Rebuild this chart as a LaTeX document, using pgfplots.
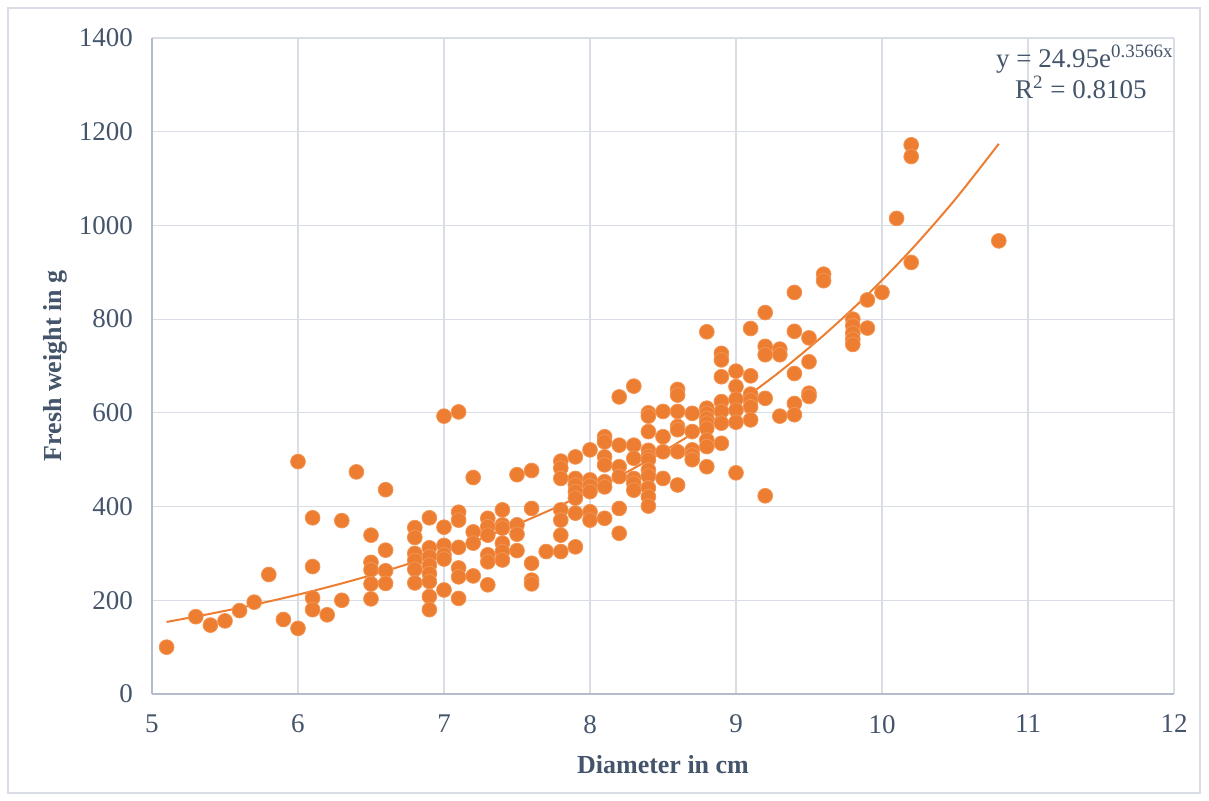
\documentclass[border=0pt]{standalone}
\usepackage{fontspec}
\setmainfont{Liberation Serif}
\usepackage{pgfplots}
\pgfplotsset{compat=1.18}
\definecolor{txt}{HTML}{44546A}
\definecolor{gridc}{HTML}{D9DEE6}
\definecolor{axc}{HTML}{B4BCCC}
\definecolor{org}{HTML}{ED7D31}
\definecolor{orgl}{HTML}{F29553}
\definecolor{frame}{HTML}{D9DEE6}
\begin{document}
\begin{tikzpicture}
\path[use as bounding box] (-76pt,-53.5pt) rectangle (528.5pt,347pt);
\draw[frame, line width=0.6pt] (-72pt,-49.5pt) rectangle (524pt,343pt);
\begin{axis}[
  at={(0,0)}, anchor=south west,
  scale only axis, width=511pt, height=328pt,
  xmin=5, xmax=12, ymin=0, ymax=1400,
  xtick={5,6,...,12}, ytick={0,200,...,1400},
  grid=major, grid style={gridc, line width=0.6pt},
  axis x line*=bottom, axis y line*=left,
  axis line style={axc, line width=0.8pt, -},
  major tick length=0pt,
  tick label style={font=\fontsize{13.5}{16}\selectfont, text=txt},
  /pgf/number format/assume math mode=true,
  /pgf/number format/.cd, 1000 sep={}, /pgfplots/.cd,
  xticklabel style={yshift=-7pt},
  yticklabel style={xshift=-6pt},
  xlabel={\textbf{Diameter in cm}},
  ylabel={\textbf{Fresh weight in g}},
  label style={font=\fontsize{13}{15}\selectfont, text=txt},
  xlabel style={yshift=-4pt},
  ylabel style={yshift=-1pt},
  clip=false,
]
\addplot[org, line width=1pt, smooth, no markers] coordinates {
(5.1,153.8) (5.4,171.2) (5.7,190.5) (6.0,212.0) (6.3,236.0) (6.6,262.6)
(6.9,292.3) (7.2,325.3) (7.5,362.0) (7.8,402.9) (8.1,448.4) (8.4,499.0)
(8.7,555.3) (9.0,618.0) (9.3,687.8) (9.6,765.5) (9.9,851.9) (10.2,948.1)
(10.5,1055.1) (10.8,1174.2)};
\addplot[only marks, mark=*, mark size=3.7pt, mark options={fill=org, draw=orgl, line width=0.4pt}] coordinates {
(5.1,100) (5.3,165) (5.4,147) (5.5,156) (5.6,178) (5.7,196) (5.8,255) (5.9,159)
(6.0,140) (6.0,496)
(6.1,376) (6.1,272) (6.1,205) (6.1,180) (6.2,169) (6.3,370) (6.3,200) (6.4,474)
(6.5,339) (6.5,281) (6.5,265) (6.5,235) (6.5,203)
(6.6,436) (6.6,307) (6.6,263) (6.6,236)
(6.8,355) (6.8,334) (6.8,300) (6.8,285) (6.8,266) (6.8,237)
(6.9,376) (6.9,312) (6.9,293) (6.9,275) (6.9,257) (6.9,240) (6.9,208) (6.9,180)
(7.0,593) (7.0,356) (7.0,317) (7.0,297) (7.0,288) (7.0,222)
(7.1,602) (7.1,388) (7.1,371) (7.1,313) (7.1,269) (7.1,250) (7.1,204)
(7.2,462) (7.2,346) (7.2,322) (7.2,252)
(7.3,375) (7.3,357) (7.3,339) (7.3,297) (7.3,282) (7.3,233)
(7.4,393) (7.4,361) (7.4,354) (7.4,322) (7.4,304) (7.4,286)
(7.5,468) (7.5,361) (7.5,341) (7.5,306)
(7.6,477) (7.6,396) (7.6,279) (7.6,243) (7.6,235)
(7.7,304)
(7.8,497) (7.8,482) (7.8,460) (7.8,393) (7.8,371) (7.8,339) (7.8,304)
(7.9,506) (7.9,460) (7.9,446) (7.9,432) (7.9,418) (7.9,386) (7.9,314)
(8.0,521) (8.0,457) (8.0,444) (8.0,432) (8.0,389) (8.0,371)
(8.1,549) (8.1,538) (8.1,506) (8.1,489) (8.1,453) (8.1,442) (8.1,375)
(8.2,634) (8.2,531) (8.2,485) (8.2,464) (8.2,396) (8.2,343)
(8.3,657) (8.3,531) (8.3,503) (8.3,460) (8.3,450) (8.3,435)
(8.4,600) (8.4,593) (8.4,560) (8.4,520) (8.4,507) (8.4,500) (8.4,478) (8.4,465) (8.4,440) (8.4,421) (8.4,401)
(8.5,603) (8.5,549) (8.5,517) (8.5,460)
(8.6,650) (8.6,638) (8.6,603) (8.6,571) (8.6,564) (8.6,517) (8.6,446)
(8.7,599) (8.7,560) (8.7,521) (8.7,510) (8.7,500)
(8.8,773) (8.8,610) (8.8,599) (8.8,588) (8.8,578) (8.8,567) (8.8,542) (8.8,528) (8.8,485)
(8.9,727) (8.9,713) (8.9,677) (8.9,624) (8.9,603) (8.9,578) (8.9,535)
(9.0,689) (9.0,656) (9.0,629) (9.0,606) (9.0,580) (9.0,472)
(9.1,780) (9.1,679) (9.1,640) (9.1,627) (9.1,613) (9.1,585)
(9.2,814) (9.2,742) (9.2,724) (9.2,631) (9.2,423)
(9.3,736) (9.3,724) (9.3,593)
(9.4,857) (9.4,774) (9.4,684) (9.4,620) (9.4,596)
(9.5,760) (9.5,709) (9.5,642) (9.5,635)
(9.6,896) (9.6,882)
(9.8,800) (9.8,786) (9.8,770) (9.8,757) (9.8,746)
(9.9,841) (9.9,781)
(10.0,857) (10.1,1015) (10.2,1172) (10.2,1147) (10.2,921) (10.8,967)
};
\end{axis}
\node[anchor=base east, text=txt, font=\fontsize{13.5}{16}\selectfont, inner sep=0pt] at (511pt,313pt) {y = 24.95e\textsuperscript{0.3566x}};
\node[anchor=base east, text=txt, font=\fontsize{13.5}{16}\selectfont, inner sep=0pt] at (497.5pt,297.5pt) {R\textsuperscript{2} = 0.8105};
\end{tikzpicture}
\end{document}
